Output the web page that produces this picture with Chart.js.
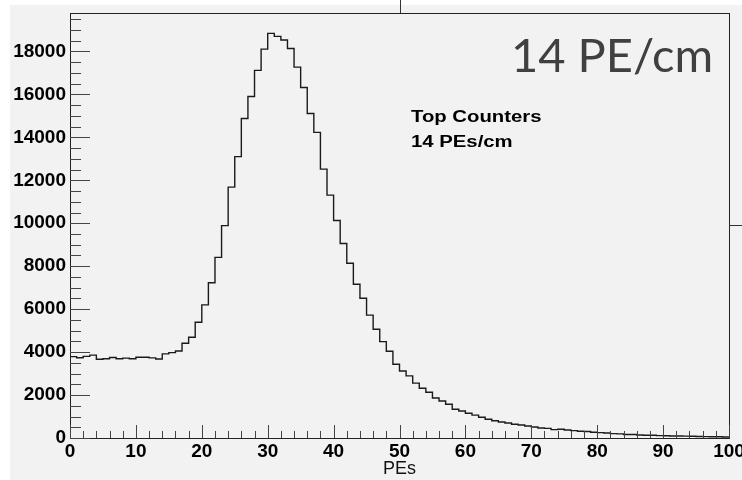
<!DOCTYPE html>
<html>
<head>
<meta charset="utf-8">
<script src="https://cdn.jsdelivr.net/npm/chart.js@4.4.1/dist/chart.umd.min.js"></script>
<style>
  html, body { margin: 0; padding: 0; background: #fff; }
  #wrap { position: absolute; left: 0; top: 0; width: 742px; height: 480px; }
</style>
</head>
<body>
<div id="wrap"><canvas id="hist"></canvas></div>
<script>
// PE counts per 1-PE bin, 0..99
const binCounts = [
  3790, 3740, 3800, 3860, 3665, 3690, 3750, 3690, 3720, 3690,
  3760, 3760, 3730, 3680, 3915, 3975, 4050, 4410, 4690, 5390,
  6200, 7230, 8410, 9890, 11680, 13100, 14880, 15900, 17120, 18110,
  18840, 18700, 18530, 18140, 17270, 16320, 15110, 14230, 12520, 11310,
  10130, 9060, 8140, 7160, 6510, 5720, 5065, 4490, 4040, 3435,
  3120, 2895, 2555, 2315, 2130, 1860, 1725, 1570, 1340, 1260,
  1150, 1065, 965, 870, 805, 745, 700, 640, 605, 560,
  510, 465, 450, 390, 405, 370, 345, 315, 300, 270,
  250, 230, 205, 190, 165, 160, 140, 125, 125, 110,
  105, 95, 90, 85, 80, 70, 65, 60, 55, 45
];
const binWidth = 1;
const xMin = 0, xMax = 100;
const yMax = 19790;
const xTicks = [0, 10, 20, 30, 40, 50, 60, 70, 80, 90, 100];
const yTicks = [0, 2000, 4000, 6000, 8000, 10000, 12000, 14000, 16000, 18000];
const xMinorStep = 2;
const yMinorStep = 500;
const xTitle = 'PEs';
const bigLabel = '14 PE/cm';
const infoLines = ['Top Counters', '14 PEs/cm'];

// each point is a bin's lower edge; the last one closes the final bin
const points = binCounts.map((v, i) => ({ x: xMin + i * binWidth, y: v }));
points.push({ x: xMax, y: binCounts[binCounts.length - 1] });

const tickFont = { family: '"Liberation Sans", Arial, sans-serif', size: 19, weight: 'bold' };

const rootStyle = {
  id: 'rootStyle',
  beforeDraw(chart) {
    const ctx = chart.ctx;
    ctx.save();
    ctx.fillStyle = '#ffffff';
    ctx.fillRect(0, 0, chart.width, chart.height);
    ctx.fillStyle = '#f2f2f2';
    ctx.fillRect(10, 5, chart.width - 10, chart.height - 5);
    ctx.restore();
  },
  afterDraw(chart) {
    const ctx = chart.ctx;
    const a = chart.chartArea;
    const xs = chart.scales.x, ys = chart.scales.y;
    ctx.save();
    // frame
    ctx.strokeStyle = '#222';
    ctx.lineWidth = 1;
    ctx.strokeRect(Math.round(a.left) + 0.5, Math.round(a.top) + 0.5,
      Math.round(a.right - a.left), Math.round(a.bottom - a.top));
    // inward ticks
    ctx.strokeStyle = '#444';
    ctx.beginPath();
    for (let v = xMin; v <= xMax; v += xMinorStep) {
      const px = Math.round(xs.getPixelForValue(v)) + 0.5;
      const len = (v % 10 === 0) ? 13 : 7;
      ctx.moveTo(px, a.bottom);
      ctx.lineTo(px, a.bottom - len);
    }
    for (let v = 0; v <= yMax; v += yMinorStep) {
      const py = Math.round(ys.getPixelForValue(v)) + 0.5;
      const len = (v % 2000 === 0) ? 20 : 11;
      ctx.moveTo(a.left, py);
      ctx.lineTo(a.left + len, py);
    }
    ctx.stroke();
    // slide leftovers
    ctx.strokeStyle = '#333';
    ctx.beginPath();
    ctx.moveTo(400.5, 0);
    ctx.lineTo(400.5, a.top);
    ctx.moveTo(a.right, 225.5);
    ctx.lineTo(chart.width, 225.5);
    ctx.stroke();
    // labels
    ctx.fillStyle = '#404040';
    ctx.font = '47px Lato, "Open Sans", sans-serif';
    ctx.textBaseline = 'alphabetic';
    ctx.fillText(bigLabel, 511, 72);
    ctx.fillStyle = '#000';
    ctx.font = 'bold 16px "Liberation Sans", Arial, sans-serif';
    ctx.save();
    ctx.translate(411, 0);
    ctx.scale(1.27, 1);
    ctx.fillText(infoLines[0], 0, 122);
    ctx.fillText(infoLines[1], 0, 147);
    ctx.restore();
    ctx.restore();
  }
};

new Chart(document.getElementById('hist'), {
  type: 'line',
  data: {
    datasets: [{
      data: points,
      stepped: 'before',
      borderColor: '#1a1a1a',
      borderWidth: 1.4,
      pointRadius: 0,
      fill: false
    }]
  },
  options: {
    responsive: true,
    maintainAspectRatio: false,
    animation: false,
    layout: { padding: { left: 0, top: 13, right: 13, bottom: 0 } },
    plugins: { legend: { display: false }, tooltip: { enabled: false } },
    scales: {
      x: {
        type: 'linear',
        min: xMin,
        max: xMax,
        afterBuildTicks: s => { s.ticks = xTicks.map(v => ({ value: v })); },
        afterFit: s => { s.height = 42; s.paddingLeft = 0; s.paddingRight = 0; },
        grid: { display: false, drawTicks: false },
        border: { display: false },
        ticks: { color: '#000', font: tickFont, padding: 2, maxRotation: 0, autoSkip: false },
        title: {
          display: true,
          text: xTitle,
          color: '#111',
          font: { family: '"Liberation Sans", Arial, sans-serif', size: 18 },
          padding: { top: 0, bottom: 0 }
        }
      },
      y: {
        type: 'linear',
        min: 0,
        max: yMax,
        afterBuildTicks: s => { s.ticks = yTicks.map(v => ({ value: v })); },
        afterFit: s => { s.width = 70; s.paddingTop = 0; s.paddingBottom = 0; },
        grid: { display: false, drawTicks: false },
        border: { display: false },
        ticks: { color: '#000', font: tickFont, padding: 4, callback: v => String(v) }
      }
    }
  },
  plugins: [rootStyle]
});
</script>
</body>
</html>
